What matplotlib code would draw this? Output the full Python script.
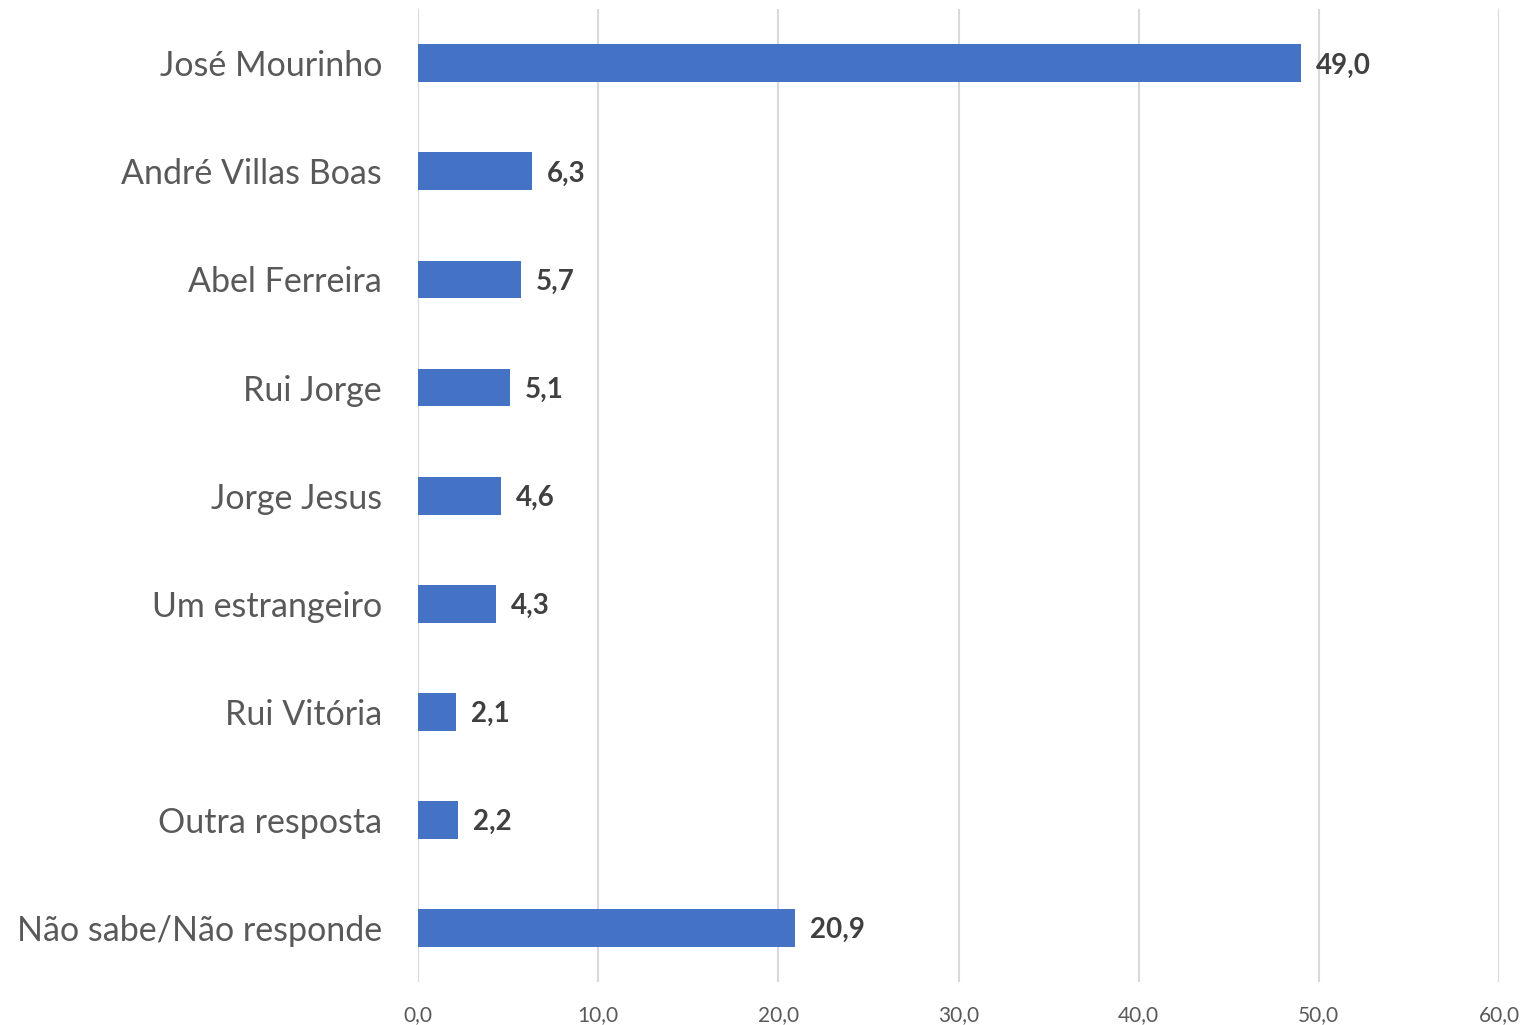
import matplotlib.pyplot as plt
import numpy as np

# dados da sondagem
categorias = ["José Mourinho", "André Villas Boas", "Abel Ferreira", "Rui Jorge",
              "Jorge Jesus", "Um estrangeiro", "Rui Vitória", "Outra resposta",
              "Não sabe/Não responde"]
valores = [49.0, 6.3, 5.7, 5.1, 4.6, 4.3, 2.1, 2.2, 20.9]
xticks = [0, 10, 20, 30, 40, 50, 60]

plt.rcParams['font.family'] = ['Lato', 'DejaVu Sans']

fig = plt.figure(figsize=(15.24, 10.25), dpi=100)
ax = fig.add_axes([0.2743, 0.042, 0.7093, 0.949])

y = np.arange(len(categorias))
ax.barh(y, valores, height=0.35, color="#4472C4", zorder=3)

for yi, v in zip(y, valores):
    ax.text(v + 0.85, yi + 0.02, f"{v:.1f}".replace(".", ","), va="center", ha="left",
            fontsize=20, fontweight="bold", color="#404040", zorder=4)

ax.set_yticks(y)
ax.set_yticklabels(categorias, fontsize=24.5, color="#595959")
ax.set_ylim(len(categorias) - 0.5, -0.5)

ax.set_xlim(0, 60)
ax.set_xticks(xticks)
ax.set_xticklabels([f"{t:.1f}".replace(".", ",") for t in xticks], fontsize=15, color="#595959")
ax.grid(axis="x", color="#D9D9D9", linewidth=1.5, zorder=0)
ax.tick_params(axis="both", length=0)
ax.tick_params(axis="y", pad=26)
ax.tick_params(axis="x", pad=17)
for s in ax.spines.values():
    s.set_visible(False)

fig.savefig("out.png", dpi=100)
